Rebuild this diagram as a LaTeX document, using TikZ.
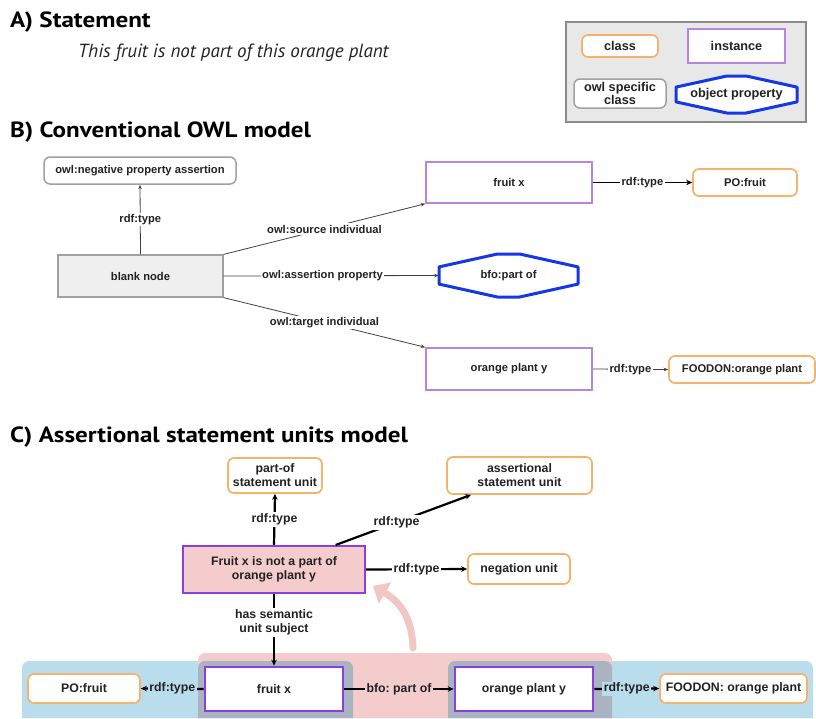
\documentclass[tikz,border=0pt]{standalone}
\usepackage{fontspec}
\setsansfont{Liberation Sans}
\newfontfamily\titlefont{PT Sans}
\usetikzlibrary{arrows.meta,calc}
\frenchspacing

\definecolor{orng}{HTML}{F6B26B}
\definecolor{purl}{HTML}{B784E0}
\definecolor{purd}{HTML}{8B3FE0}
\definecolor{blu}{HTML}{1537E6}
\definecolor{gry}{HTML}{A0A0A0}
\definecolor{blankfill}{HTML}{EFEFEF}
\definecolor{pinkf}{HTML}{F4CCCC}
\definecolor{bluebg}{HTML}{B9DDEC}
\definecolor{graybg}{HTML}{AAB3C0}
\definecolor{legbg}{HTML}{E8E8E8}
\definecolor{legbd}{HTML}{8A8A8A}
\definecolor{arrowpink}{HTML}{F3C6C6}
\definecolor{txt}{HTML}{222222}

\newcommand\octshape[4]{%
  \draw[line width=3pt, blu, fill=white, line join=round]
   ({#1-0.5*#3},{#2-0.2*#4}) -- ({#1-0.08*#3},{#2-0.5*#4}) -- ({#1+0.08*#3},{#2-0.5*#4})
   -- ({#1+0.5*#3},{#2-0.2*#4}) -- ({#1+0.5*#3},{#2+0.2*#4}) -- ({#1+0.08*#3},{#2+0.5*#4})
   -- ({#1-0.08*#3},{#2+0.5*#4}) -- ({#1-0.5*#3},{#2+0.2*#4}) -- cycle;}
\newcommand\wideT[1]{\scalebox{1.14}[1]{#1}}

\tikzset{
  fb/.style={font=\fontsize{11.2}{13}\selectfont\sffamily\bfseries},
  fl/.style={font=\fontsize{12.7}{13}\selectfont\sffamily\bfseries},
  fc/.style={font=\fontsize{12.3}{14}\selectfont\sffamily\bfseries},
  box/.style={inner sep=0pt, align=center, text=txt},
  clsbox/.style={box, draw=orng, line width=1.7pt, rounded corners=6pt, fill=white},
  instbox/.style={box, draw=purl, line width=1.5pt, fill=white},
  instdark/.style={box, draw=purd, line width=2.6pt, fill=white},
  owlbox/.style={box, draw=gry, line width=1.5pt, rounded corners=6pt, fill=white},
  lbl/.style={inner sep=1.5pt, text=txt, fill=white, align=center},
  thin/.style={draw=black!75, line width=0.8pt, -{Stealth[length=4.5pt,width=3.5pt]}},
  thick/.style={draw=black, line width=2.2pt, -{Stealth[length=6pt,width=5.5pt]}},
  ttl/.style={font=\fontsize{22}{24}\selectfont\titlefont\bfseries, anchor=base west, inner sep=0pt, text=black},
}

\begin{document}
\begin{tikzpicture}[x=1pt,y=-1pt]
\useasboundingbox (0,0) rectangle (816,718);

% ---------- A
\node[ttl] (tA) at (10,27) {\wideT{A) Statement}};
\node[font=\fontsize{19}{21}\selectfont\titlefont\itshape, anchor=base west, inner sep=0pt, text=txt] (stmtA) at (78,57) {This fruit is not part of this orange plant};

% ---------- legend
\draw[fill=legbg, draw=legbd, line width=1.2pt] (566,22) rectangle (806,122);
\node[clsbox, fl, minimum width=76pt, minimum height=22pt] (lclass) at (620,46) {class};
\node[instbox, fl, minimum width=97pt, minimum height=34pt] (linst) at (736.5,46) {instance};
\node[owlbox, fl, minimum width=92pt, minimum height=29pt, font=\fontsize{12.7}{11}\selectfont\sffamily\bfseries] (lowl) at (620,93.5) {owl specific\\class};
\octshape{736.5}{94.5}{121}{37}
\node[box, fl, minimum width=121pt, minimum height=37pt] (lobj) at (736.5,94.5) {object property};

% ---------- B
\node[ttl] (tB) at (10,137) {\wideT{B) Conventional OWL model}};
\node[owlbox, fb, minimum width=192pt, minimum height=27pt] (neg) at (140,170.5) {owl:negative property assertion};
\node[box, fb, draw=gry, line width=1.2pt, fill=blankfill, minimum width=165pt, minimum height=42pt] (blank) at (140.5,276) {blank node};
\node[instbox, fb, minimum width=166pt, minimum height=41pt] (fruitB) at (509,182.5) {fruit x};
\node[clsbox, fb, minimum width=104pt, minimum height=27pt] (pofruitB) at (745,182.5) {PO:fruit};
\octshape{508.5}{275.5}{139}{43}
\node[box, fb, minimum width=139pt, minimum height=43pt] (bfo) at (508.5,275.5) {bfo:part of};
\node[instbox, fb, minimum width=166pt, minimum height=42pt] (orangeB) at (509,369) {orange plant y};
\node[clsbox, fb, minimum width=146pt, minimum height=27pt] (foodonB) at (742,369.5) {FOODON:orange plant};

\draw[thin] (blank.north) -- node[lbl, fb] {rdf:type} (neg.south);
\draw[thin] (blank.north east) -- node[lbl, fb] {owl:source individual} (fruitB.south west);
\draw[thin] (blank.east) -- node[lbl, fb, pos=0.46] {owl:assertion property} (bfo.west);
\draw[thin] (blank.south east) -- node[lbl, fb] {owl:target individual} (orangeB.north west);
\draw[thick, line width=1.8pt] (fruitB.east) -- node[lbl, fb] {rdf:type} (pofruitB.west);
\draw[thin] (orangeB.east) -- node[lbl, fb] {rdf:type} (foodonB.west);

% ---------- C
\node[ttl] (tC) at (10,442) {\wideT{C) Assertional statement units model}};

% backgrounds
\fill[bluebg, rounded corners=7pt] (22,718) -- (22,661) -- (813,661) -- (813,718);
\fill[pinkf, rounded corners=7pt] (198,718) -- (198,653) -- (612,653) -- (612,718);
\fill[graybg, rounded corners=7pt] (198,718) -- (198,661) -- (353,661) -- (353,718);
\fill[graybg, rounded corners=7pt] (448,718) -- (448,661) -- (612,661) -- (612,718);

\node[clsbox, fc, minimum width=94pt, minimum height=35pt] (partof) at (275,475.5) {part-of\\statement unit};
\node[clsbox, fc, minimum width=145pt, minimum height=37pt] (assert) at (519.5,475.5) {assertional\\statement unit};
\node[box, fc, draw=purd, line width=2pt, fill=pinkf, minimum width=182pt, minimum height=47pt] (stmt) at (274,569.5) {Fruit x is not a part of\\orange plant y};
\node[clsbox, fc, minimum width=102pt, minimum height=30pt] (negunit) at (519,569) {negation unit};

\node[instdark, fc, minimum width=138pt, minimum height=44pt] (fruitC) at (274,689) {fruit x};
\node[instdark, fc, minimum width=138pt, minimum height=44pt] (orangeC) at (524,689) {orange plant y};
\node[clsbox, fc, minimum width=112pt, minimum height=29pt] (pofruitC) at (84,688.5) {PO:fruit};
\node[clsbox, fc, minimum width=147pt, minimum height=29pt] (foodonC) at (733.5,688.5) {FOODON: orange plant};

% curved pink arrow
\coordinate (pa) at (413,648);
\coordinate (pb) at (373,586);
\draw[arrowpink, line width=7pt, line cap=round, -{Triangle[length=14pt,width=24pt]}] (pa) .. controls (412,620) and (402,603) .. (pb);

\draw[thick] (stmt.north) -- node[lbl, fc] {rdf:type} (partof.south);
\draw[thick] ($(stmt.north west)!0.835!(stmt.north east)$) -- node[lbl, fc, pos=0.45] {rdf:type} ($(assert.south west)!0.17!(assert.south east)$);
\draw[thick] (stmt.east) -- node[lbl, fc] {rdf:type} (negunit.west);
\draw[thick] (stmt.south) -- node[lbl, fc, pos=0.4] {has semantic\\unit subject} (fruitC.north);
\draw[thick] (fruitC.west) -- node[lbl, fc, fill=bluebg] {rdf:type} (pofruitC.east);
\draw[thick] (fruitC.east) -- node[lbl, fc, fill=pinkf] {bfo: part of} (orangeC.west);
\draw[thick] (orangeC.east) -- node[lbl, fc, fill=bluebg] {rdf:type} (foodonC.west);
\end{tikzpicture}
\end{document}
